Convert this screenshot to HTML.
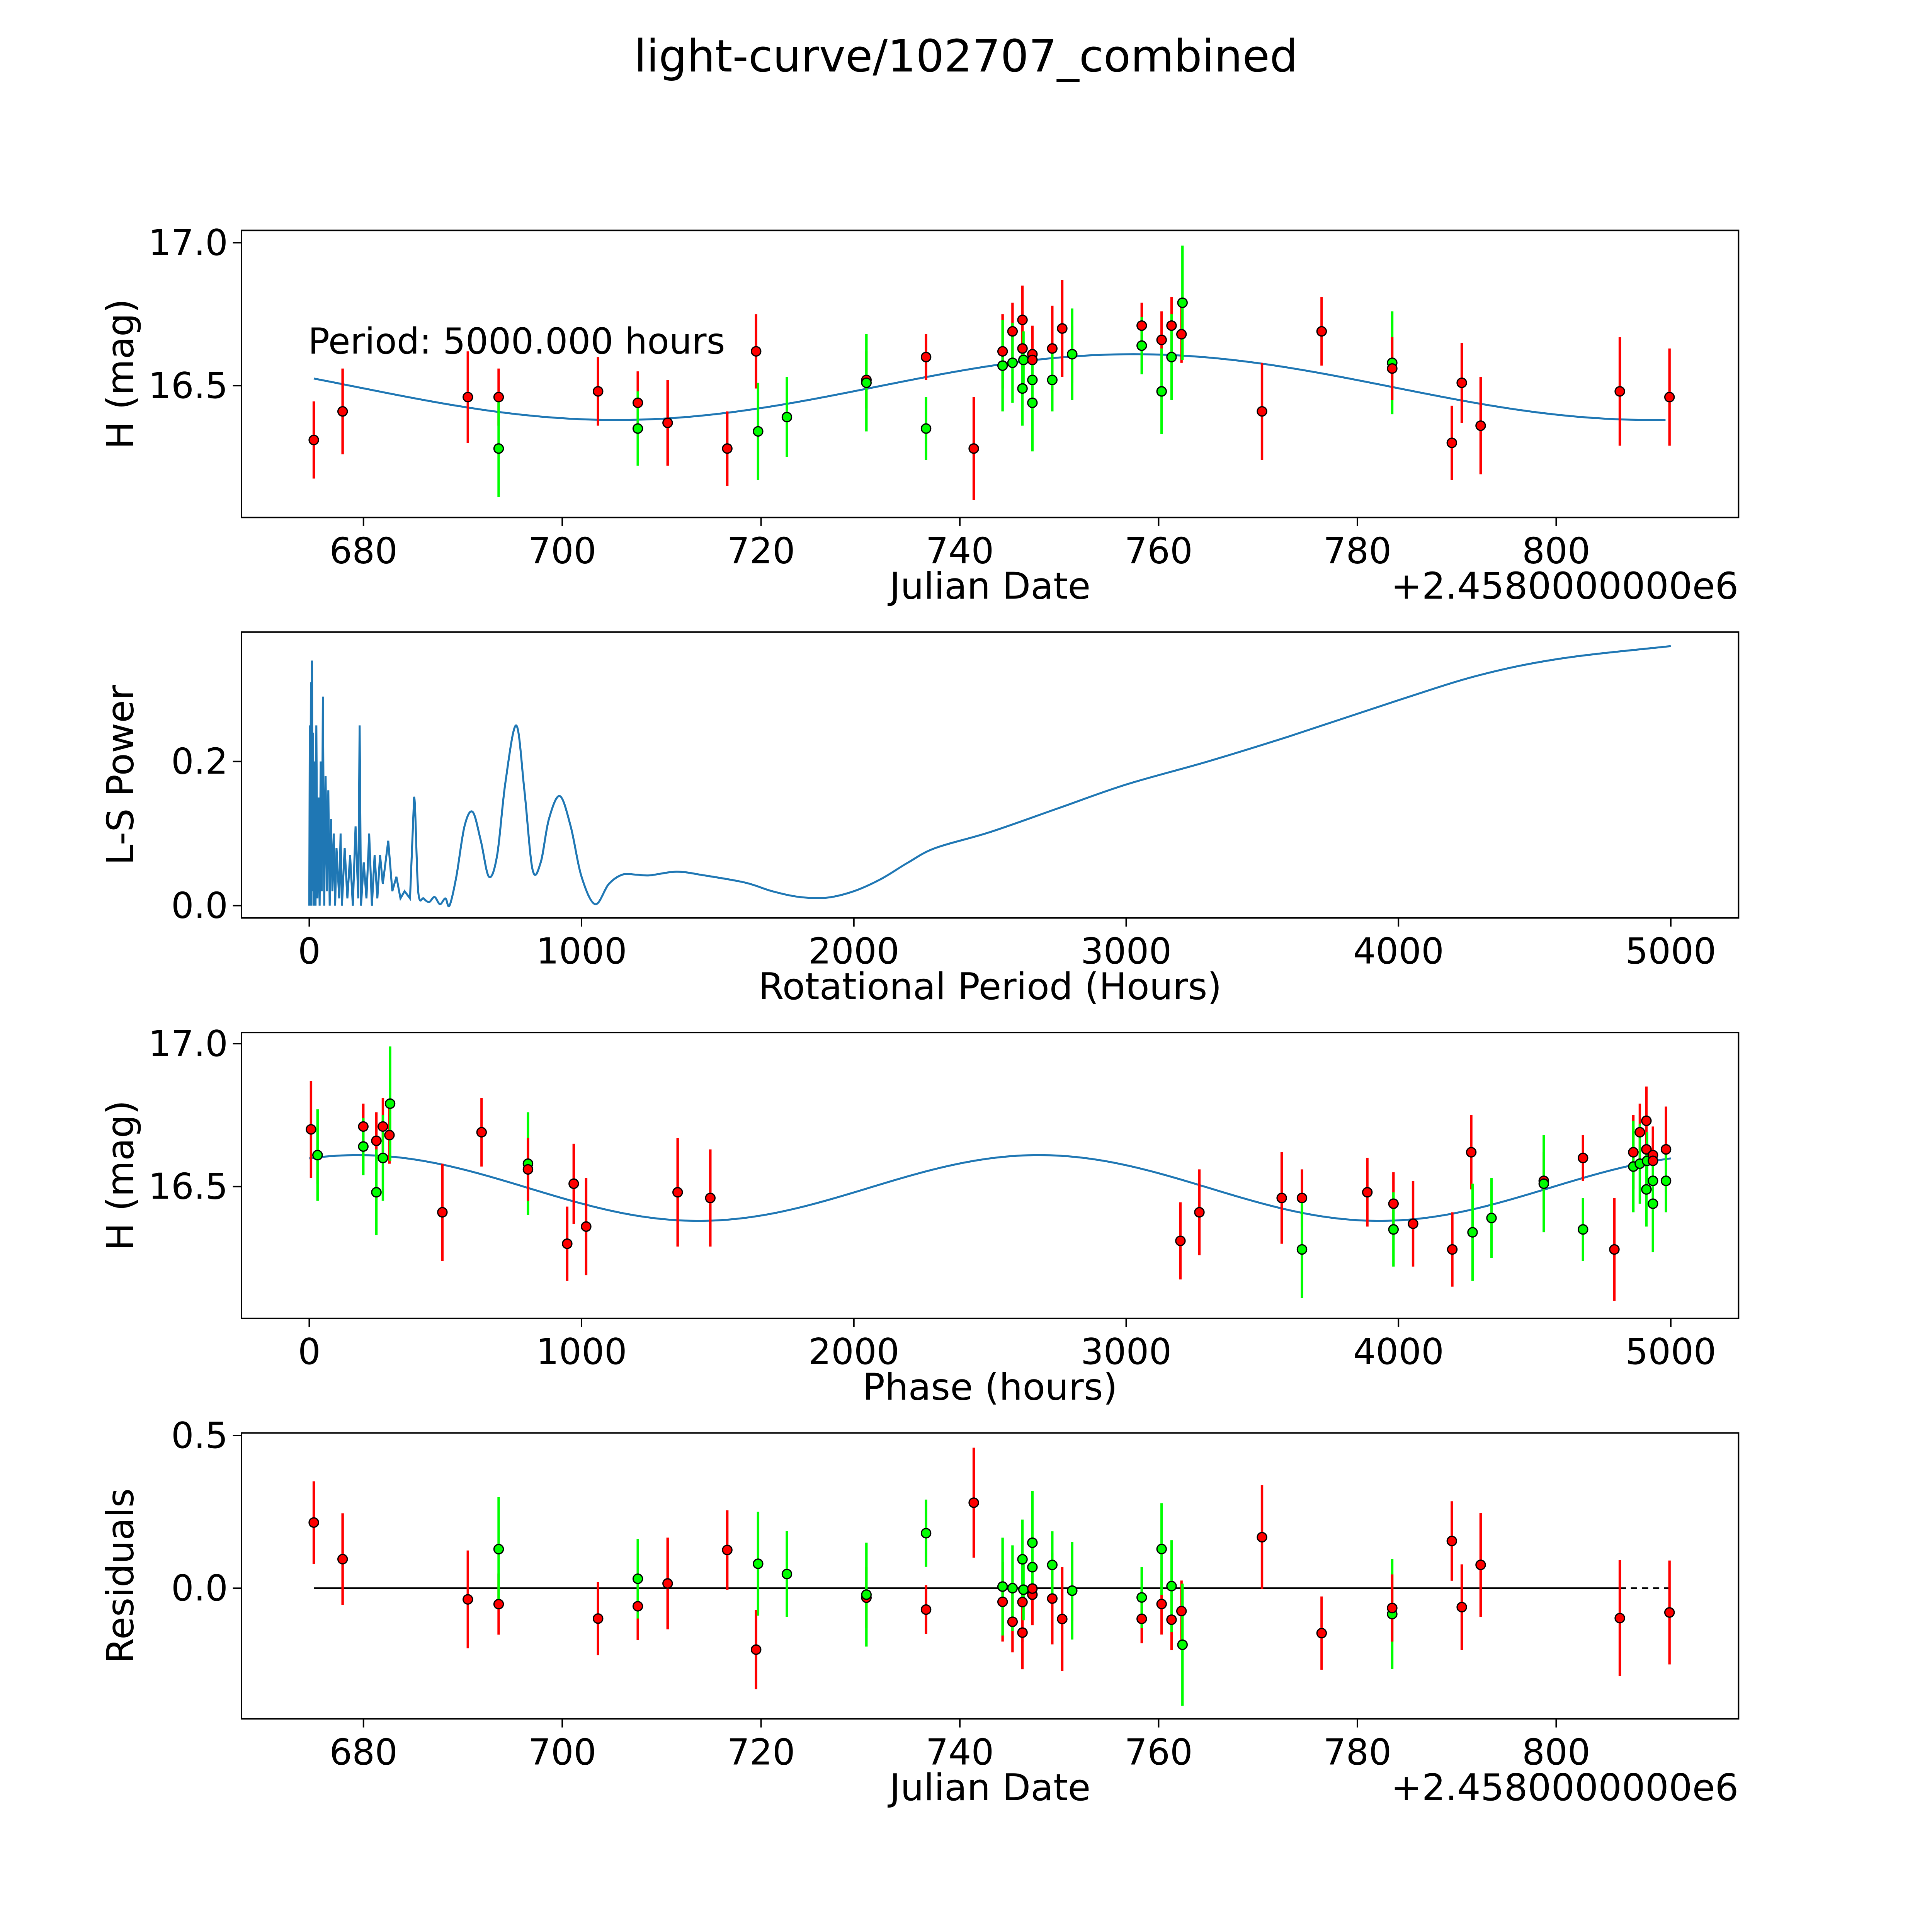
<!DOCTYPE html>
<html><head><meta charset="utf-8">
<style>
html,body{margin:0;padding:0;background:#fff;width:100%;height:100%;overflow:hidden;}
svg{display:block;width:100vw;height:100vh;}
text{font-family:"DejaVu Sans","Liberation Sans",sans-serif;fill:#000;}
</style></head>
<body>
<svg id="fig" xmlns="http://www.w3.org/2000/svg" viewBox="0 0 1568 1568" preserveAspectRatio="xMidYMid meet">
<rect width="1568" height="1568" fill="#fff"/>
<text x="784" y="58" font-size="36" text-anchor="middle">light-curve/102707_combined</text>
</svg>
<script>
// ---- data ----
const obsDates = [675.0,677.9,690.5,693.6,693.6,703.6,707.6,707.6,710.6,716.6,719.5,719.7,722.6,730.6,730.6,736.6,736.6,741.4,744.3,744.3,745.3,745.3,746.3,746.3,746.3,746.4,747.3,747.3,747.3,747.3,749.3,749.3,750.3,751.3,751.3,758.3,758.3,760.3,760.3,761.3,761.3,762.3,762.4,770.4,776.4,783.5,783.5,789.5,790.5,792.4,806.4,811.4];
const obsMags = [16.31,16.41,16.46,16.46,16.28,16.48,16.44,16.35,16.37,16.28,16.62,16.34,16.39,16.52,16.51,16.60,16.35,16.28,16.62,16.57,16.69,16.58,16.73,16.63,16.49,16.59,16.61,16.59,16.52,16.44,16.63,16.52,16.70,16.61,16.61,16.71,16.64,16.66,16.48,16.71,16.60,16.68,16.79,16.41,16.69,16.58,16.56,16.30,16.51,16.36,16.48,16.46];
const obsErrs = [0.135,0.15,0.16,0.10,0.17,0.12,0.11,0.13,0.15,0.13,0.13,0.17,0.14,0.10,0.17,0.08,0.11,0.18,0.13,0.16,0.10,0.14,0.12,0.13,0.13,0.10,0.10,0.08,0.10,0.17,0.15,0.11,0.17,0.10,0.16,0.08,0.10,0.10,0.15,0.10,0.15,0.10,0.20,0.17,0.12,0.18,0.11,0.13,0.14,0.17,0.19,0.17];
const obsFilters = ['r','r','r','r','g','r','r','g','r','r','r','g','g','r','g','r','g','r','r','g','r','g','r','r','g','g','r','r','g','g','r','g','r','r','g','r','g','r','g','r','g','r','g','r','r','g','r','r','r','r','r','r'];
const periodHours = [0,2,4,6,8,10,12,14,17,20,23,26,30,34,38,42,46,50,55,60,65,70,75,80,85,90,95,100,110,115,120,130,140,150,160,170,180,185,190,200,210,220,230,240,250,260,270,290,305,320,335,350,370,385,400,420,440,460,480,500,515,540,570,600,630,660,690,720,760,790,820,850,880,920,960,1000,1050,1100,1150,1200,1250,1350,1450,1600,1700,1800,1900,2000,2100,2200,2300,2500,2750,3000,3300,3600,4000,4300,4600,5000];
const lsPower = [0,0.25,0,0.31,0,0.34,0.02,0.24,0,0.2,0,0.25,0.01,0.15,0,0.2,0.02,0.29,0,0.18,0.02,0.16,0,0.12,0.02,0.1,0,0.08,0.01,0.1,0,0.08,0.01,0.07,0,0.11,0.01,0.25,0,0.06,0.01,0.1,0,0.07,0.01,0.07,0.03,0.09,0.02,0.04,0.01,0.02,0.01,0.15,0.02,0.01,0.005,0.012,0.002,0.01,0,0.04,0.11,0.13,0.09,0.04,0.07,0.17,0.25,0.16,0.05,0.06,0.12,0.152,0.11,0.04,0.002,0.03,0.043,0.043,0.042,0.047,0.042,0.032,0.02,0.012,0.011,0.02,0.037,0.06,0.08,0.102,0.135,0.168,0.2,0.235,0.285,0.32,0.343,0.36];
const fitMean = 16.495, fitAmp = 0.115, fitPeakDate = 757.5, fitHalfPeriodDays = 104.17;
const periodH = 5000, phaseT0 = 541.7;
const dateTicks = [680,700,720,740,760,780,800];
const magTicks = [16.5,17.0];
const lsTicks = [0.0,0.2];
const hourTicks = [0,1000,2000,3000,4000,5000];
const residTicks = [0.0,0.5];

// ---- helpers ----
const NS='http://www.w3.org/2000/svg';
const svg=document.getElementById('fig');
function mk(tag,attrs,parent){const e=document.createElementNS(NS,tag);for(const k in attrs)e.setAttribute(k,attrs[k]);(parent||svg).appendChild(e);return e;}
function model(t){return fitMean+fitAmp*Math.cos(2*Math.PI*(t-fitPeakDate)/fitHalfPeriodDays);}
function lin(d0,d1,r0,r1){return v=>r0+(v-d0)*(r1-r0)/(d1-d0);}
const L=196,R=1411;
const xDate=lin(680,800,295,1263);
const xHour=lin(0,5000,251,1356);
const colorOf=f=>f==='r'?'#ff0000':'#00ff00';

function panel(name,top,bot,xs,ys,xt,yt,xfmt,yfmt,xlabel,ylabel,offset){
  const g=mk('g',{});
  
  
  const frame=mk('rect',{x:L,y:top,width:R-L,height:bot-top,fill:'none',stroke:'#000','stroke-width':1.2},g);
  
  
  xt.forEach(v=>{const x=xs(v);mk('line',{x1:x,x2:x,y1:bot,y2:bot+7,stroke:'#000','stroke-width':1.2},g);
    const t=mk('text',{x:x,y:bot+37,'font-size':29,'text-anchor':'middle'},g);t.textContent=xfmt(v);
    });
  yt.forEach(v=>{const y=ys(v);mk('line',{x1:L-7,x2:L,y1:y,y2:y,stroke:'#000','stroke-width':1.2},g);
    const t=mk('text',{x:L-11,y:y+10,'font-size':29,'text-anchor':'end'},g);t.textContent=yfmt(v);
    });
  const xl=mk('text',{x:(L+R)/2,y:bot+66,'font-size':30,'text-anchor':'middle'},g);xl.textContent=xlabel;
  
  const cy=(top+bot)/2;
  const yl=mk('text',{x:0,y:0,'font-size':30,'text-anchor':'middle',transform:`translate(${108},${cy}) rotate(-90)`},g);yl.textContent=ylabel;
  
  if(offset){const o=mk('text',{x:R,y:bot+66,'font-size':30,'text-anchor':'end'},g);o.textContent=offset;
    }
  return g;
}
function points(g,xsArr,ysArr,errs,ys,xs){
  const eg=mk('g',{},g);
  xsArr.forEach((xv,i)=>{const x=xs(xv);
    const l=mk('line',{x1:x,x2:x,y1:ys(ysArr[i]+errs[i]),y2:ys(ysArr[i]-errs[i]),stroke:colorOf(obsFilters[i]),'stroke-width':2},eg);
    });
  xsArr.forEach((xv,i)=>{const c=mk('circle',{cx:xs(xv),cy:ys(ysArr[i]),r:3.8,fill:colorOf(obsFilters[i]),stroke:'#000','stroke-width':1},eg);
    });
}
const f1=v=>v.toFixed(1);

// panel 1
const y1=lin(16.5,17.0,313,197);
const g1=panel('light-curve-panel',187,420,xDate,y1,dateTicks,magTicks,v=>String(v),f1,'Julian Date','H (mag)','+2.4580000000e6');
let d='';for(let t=675;t<=811.4;t+=0.5){d+=(d?'L':'M')+xDate(t).toFixed(2)+','+y1(model(t)).toFixed(2);}
const c1=mk('path',{d:d,fill:'none',stroke:'#1f77b4','stroke-width':1.6},g1);

points(g1,obsDates,obsMags,obsErrs,y1,xDate);
const pt=mk('text',{x:250,y:287,'font-size':29},g1);pt.textContent='Period: 5000.000 hours';


// panel 2
const y2=lin(0,0.2,735,618);
const g2=panel('periodogram-panel',513,745,xHour,y2,hourTicks,lsTicks,v=>String(v),f1,'Rotational Period (Hours)','L-S Power');
const P=periodHours.map((p,i)=>[xHour(p),y2(lsPower[i])]);
d='M'+P[0][0].toFixed(2)+','+P[0][1].toFixed(2);
for(let i=1;i<P.length;i++){
  if(periodHours[i]<=385){d+='L'+P[i][0].toFixed(2)+','+P[i][1].toFixed(2);continue;}
  const p0=P[i-2]||P[i-1],p1=P[i-1],p2=P[i],p3=P[i+1]||P[i];
  const c1x=p1[0]+(p2[0]-p0[0])/6,c1y=p1[1]+(p2[1]-p0[1])/6;
  const c2x=p2[0]-(p3[0]-p1[0])/6,c2y=p2[1]-(p3[1]-p1[1])/6;
  d+='C'+c1x.toFixed(2)+','+c1y.toFixed(2)+' '+c2x.toFixed(2)+','+c2y.toFixed(2)+' '+p2[0].toFixed(2)+','+p2[1].toFixed(2);
}
const c2=mk('path',{d:d,fill:'none',stroke:'#1f77b4','stroke-width':1.6},g2);


// panel 3
const y3=lin(16.5,17.0,963,847);
const g3=panel('phase-panel',838,1070,xHour,y3,hourTicks,magTicks,v=>String(v),f1,'Phase (hours)','H (mag)');
d='';for(let p=0;p<=5000;p+=20){d+=(d?'L':'M')+xHour(p).toFixed(2)+','+y3(model(phaseT0+p/24)).toFixed(2);}
const c3=mk('path',{d:d,fill:'none',stroke:'#1f77b4','stroke-width':1.6},g3);

const phases=obsDates.map(t=>(((t-phaseT0)*24)%periodH+periodH)%periodH);
points(g3,phases,obsMags,obsErrs,y3,xHour);

// panel 4
const y4=lin(0,0.5,1289,1165);
const g4=panel('residuals-panel',1163,1395,xDate,y4,dateTicks,residTicks,v=>String(v),f1,'Julian Date','Residuals','+2.4580000000e6');
const z1=mk('line',{x1:xDate(675),x2:xDate(806.4),y1:y4(0),y2:y4(0),stroke:'#000','stroke-width':1.4},g4);

const z2=mk('line',{x1:xDate(806.4),x2:xDate(811.4),y1:y4(0),y2:y4(0),stroke:'#000','stroke-width':1.4,'stroke-dasharray':'5,4'},g4);

const resid=obsDates.map((t,i)=>model(t)-obsMags[i]);
points(g4,obsDates,resid,obsErrs,y4,xDate);
</script>
</body></html>
